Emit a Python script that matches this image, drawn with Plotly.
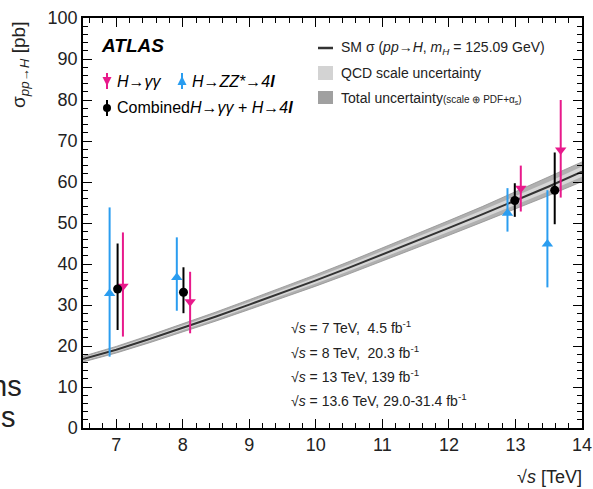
import plotly.graph_objects as go

# ---------------- data ----------------
sqrt_s_curve = [6.5, 7.0, 7.5, 8.0, 8.5, 9.0, 9.5, 10.0, 10.5, 11.0, 11.5, 12.0, 12.5, 13.0, 13.5, 14.0]
sm_xsec = [16.8, 19.1, 21.7, 24.4, 27.2, 30.1, 33.0, 36.0, 39.1, 42.3, 45.5, 48.8, 52.1, 55.5, 58.9, 62.5]
tot_unc = [0.7, 0.8, 0.9, 1.0, 1.1, 1.2, 1.3, 1.4, 1.5, 1.6, 1.7, 1.8, 1.9, 2.1, 2.2, 2.4]
qcd_unc = [0.4, 0.45, 0.5, 0.55, 0.6, 0.65, 0.7, 0.75, 0.8, 0.85, 0.9, 0.95, 1.0, 1.1, 1.15, 1.25]

gg_x = [7.10, 8.11, 13.08, 13.68]
gg_y = [34.6, 30.8, 58.5, 67.8]
gg_up = [13.1, 7.3, 5.5, 12.2]
gg_dn = [12.3, 7.7, 5.7, 11.6]

zz_x = [6.90, 7.91, 12.88, 13.48]
zz_y = [32.8, 36.7, 52.4, 44.9]
zz_up = [21.0, 9.8, 6.1, 13.1]
zz_dn = [15.4, 8.1, 4.5, 10.6]

comb_x = [7.02, 8.01, 12.99, 13.59]
comb_y = [33.9, 33.1, 55.5, 58.0]
comb_up = [11.1, 6.1, 4.2, 9.2]
comb_dn = [10.0, 5.1, 4.0, 8.3]

lumi_lines = [
    "√<i>s</i> = 7 TeV,  4.5 fb<sup>-1</sup>",
    "√<i>s</i> = 8 TeV,  20.3 fb<sup>-1</sup>",
    "√<i>s</i> = 13 TeV, 139 fb<sup>-1</sup>",
    "√<i>s</i> = 13.6 TeV, 29.0-31.4 fb<sup>-1</sup>",
]

MAGENTA = "#e8198b"
BLUE = "#2a9df0"
FONT = "Liberation Sans"

fig = go.Figure()

tot_hi = [m + u for m, u in zip(sm_xsec, tot_unc)]
tot_lo = [m - u for m, u in zip(sm_xsec, tot_unc)]
qcd_hi = [m + u for m, u in zip(sm_xsec, qcd_unc)]
qcd_lo = [m - u for m, u in zip(sm_xsec, qcd_unc)]

fig.add_trace(go.Scatter(x=sqrt_s_curve, y=tot_hi, mode="lines", line=dict(width=0.8, color="#909090"),
                         showlegend=False, hoverinfo="skip"))
fig.add_trace(go.Scatter(x=sqrt_s_curve, y=tot_lo, mode="lines", line=dict(width=0.8, color="#909090"),
                         fill="tonexty", fillcolor="#b0b0b0", showlegend=False, hoverinfo="skip"))
fig.add_trace(go.Scatter(x=sqrt_s_curve, y=qcd_hi, mode="lines", line=dict(width=0),
                         showlegend=False, hoverinfo="skip"))
fig.add_trace(go.Scatter(x=sqrt_s_curve, y=qcd_lo, mode="lines", line=dict(width=0),
                         fill="tonexty", fillcolor="#d6d6d6", showlegend=False, hoverinfo="skip"))
fig.add_trace(go.Scatter(x=sqrt_s_curve, y=sm_xsec, mode="lines", line=dict(width=2, color="#333333"),
                         showlegend=False, hoverinfo="skip"))

def meas(x, y, up, dn, color, symbol, size):
    fig.add_trace(go.Scatter(
        x=x, y=y, mode="markers",
        marker=dict(color=color, symbol=symbol, size=size),
        error_y=dict(type="data", symmetric=False, array=up, arrayminus=dn,
                     color=color, thickness=2, width=0),
        showlegend=False))

meas(zz_x, zz_y, zz_up, zz_dn, BLUE, "triangle-up", 10)
meas(gg_x, gg_y, gg_up, gg_dn, MAGENTA, "triangle-down", 10)
meas(comb_x, comb_y, comb_up, comb_dn, "black", "circle", 9)

# ---------------- layout ----------------
W, H = 593, 489
L, R, T, B = 83, 11, 18, 61
pw, ph = W - L - R, H - T - B

def px(xp):
    return (xp - L) / pw

def py(yp):
    return (H - B - yp) / ph

axis_common = dict(showline=True, linecolor="black", linewidth=1.5, mirror="ticks",
                   ticks="inside", ticklen=9, tickwidth=1.3, tickcolor="black",
                   showgrid=False, zeroline=False, automargin=False,
                   tickfont=dict(family=FONT, size=18, color="#222222"))

fig.update_xaxes(range=[6.5, 14], dtick=1, tick0=7,
                 minor=dict(dtick=0.2, ticks="inside", ticklen=5, tickcolor="black", tickwidth=1),
                 **axis_common)
fig.update_yaxes(range=[0, 100], dtick=10, tick0=0,
                 minor=dict(dtick=2, ticks="inside", ticklen=5, tickcolor="black", tickwidth=1),
                 **axis_common)

ann = []
shapes = []

# y title
ann.append(dict(x=px(20), y=py(20), xref="paper", yref="paper", xanchor="center", yanchor="top",
                textangle=-90, showarrow=False,
                text="σ<sub><i>pp→H</i></sub> [pb]",
                font=dict(family=FONT, size=19, color="#222222")))
# x title
ann.append(dict(x=px(584), y=py(477), xref="paper", yref="paper", xanchor="right", yanchor="middle",
                showarrow=False, text="√<i>s</i> [TeV]",
                font=dict(family=FONT, size=18, color="#222222")))

# ATLAS
ann.append(dict(x=px(99), y=py(46), xref="paper", yref="paper", xanchor="left", yanchor="middle",
                showarrow=False, text="<b><i>ATLAS</i></b>",
                font=dict(family=FONT, size=19, color="black")))

# left legend glyphs
def glyph(xc, yc, color, kind):
    shapes.append(dict(type="line", xref="paper", yref="paper",
                       x0=px(xc), x1=px(xc), y0=py(yc - 8), y1=py(yc + 8),
                       line=dict(color=color, width=2)))
    if kind == "circle":
        shapes.append(dict(type="circle", xref="paper", yref="paper",
                           x0=px(xc - 4), x1=px(xc + 4), y0=py(yc - 4), y1=py(yc + 4),
                           fillcolor=color, line=dict(color=color, width=0)))
    else:
        if kind == "down":
            pts = [(xc - 4.5, yc - 4), (xc + 4.5, yc - 4), (xc, yc + 5)]
        else:
            pts = [(xc - 4.5, yc + 4), (xc + 4.5, yc + 4), (xc, yc - 5)]
        path = "M " + " L ".join(f"{px(a):.5f},{py(b):.5f}" for a, b in pts) + " Z"
        shapes.append(dict(type="path", xref="paper", yref="paper", path=path,
                           fillcolor=color, line=dict(color=color, width=0)))

glyph(107, 81, MAGENTA, "down")
glyph(182, 81, BLUE, "up")
glyph(107, 108, "black", "circle")

legfont = dict(family=FONT, size=16, color="black")
ann.append(dict(x=px(115), y=py(81), xref="paper", yref="paper", xanchor="left", yanchor="middle",
                showarrow=False, text="<i>H→γγ</i>", font=legfont))
ann.append(dict(x=px(190), y=py(81), xref="paper", yref="paper", xanchor="left", yanchor="middle",
                showarrow=False, text="<i>H→ZZ*→4<b>l</b></i>", font=legfont))
ann.append(dict(x=px(115), y=py(108), xref="paper", yref="paper", xanchor="left", yanchor="middle",
                showarrow=False, text="Combined<i>H→γγ</i> + <i>H→4<b>l</b></i>", font=legfont))

# right legend
shapes.append(dict(type="line", xref="paper", yref="paper", x0=px(318), x1=px(333), y0=py(48), y1=py(48),
                   line=dict(color="#333333", width=2.5)))
shapes.append(dict(type="rect", xref="paper", yref="paper", x0=px(318), x1=px(333), y0=py(66), y1=py(80),
                   fillcolor="#d3d3d3", line=dict(width=0)))
shapes.append(dict(type="rect", xref="paper", yref="paper", x0=px(318), x1=px(333), y0=py(91), y1=py(104),
                   fillcolor="#a0a0a0", line=dict(width=0)))
rfont = dict(family=FONT, size=14, color="#222222")
ann.append(dict(x=px(339), y=py(48), xref="paper", yref="paper", xanchor="left", yanchor="middle",
                showarrow=False, text="SM σ (<i>pp</i>→<i>H</i>, <i>m<sub>H</sub></i> = 125.09 GeV)", font=rfont))
ann.append(dict(x=px(339), y=py(73), xref="paper", yref="paper", xanchor="left", yanchor="middle",
                showarrow=False, text="QCD scale uncertainty", font=rfont))
ann.append(dict(x=px(339), y=py(98), xref="paper", yref="paper", xanchor="left", yanchor="middle",
                showarrow=False,
                text="Total uncertainty<span style='font-size:10px'>(scale ⊕ PDF+α<sub>s</sub>)</span>",
                font=rfont))

# lumi text
for t, yp in zip(lumi_lines, [327, 352, 376, 400]):
    ann.append(dict(x=px(289), y=py(yp), xref="paper", yref="paper", xanchor="left", yanchor="middle",
                    showarrow=False, text=t, font=dict(family=FONT, size=14, color="#222222")))

# cut-off slide text fragments on the left edge of the reference
ann.append(dict(x=px(24), y=py(386), xref="paper", yref="paper", xanchor="right", yanchor="middle",
                showarrow=False, text="ns", font=dict(family=FONT, size=29, color="#222222")))
ann.append(dict(x=px(18), y=py(417), xref="paper", yref="paper", xanchor="right", yanchor="middle",
                showarrow=False, text="s", font=dict(family=FONT, size=29, color="#222222")))

fig.update_layout(width=W, height=H, margin=dict(l=L, r=R, t=T, b=B, autoexpand=False),
                  paper_bgcolor="white", plot_bgcolor="white",
                  showlegend=False, annotations=ann, shapes=shapes,
                  font=dict(family=FONT))

fig.write_html("out.html")
